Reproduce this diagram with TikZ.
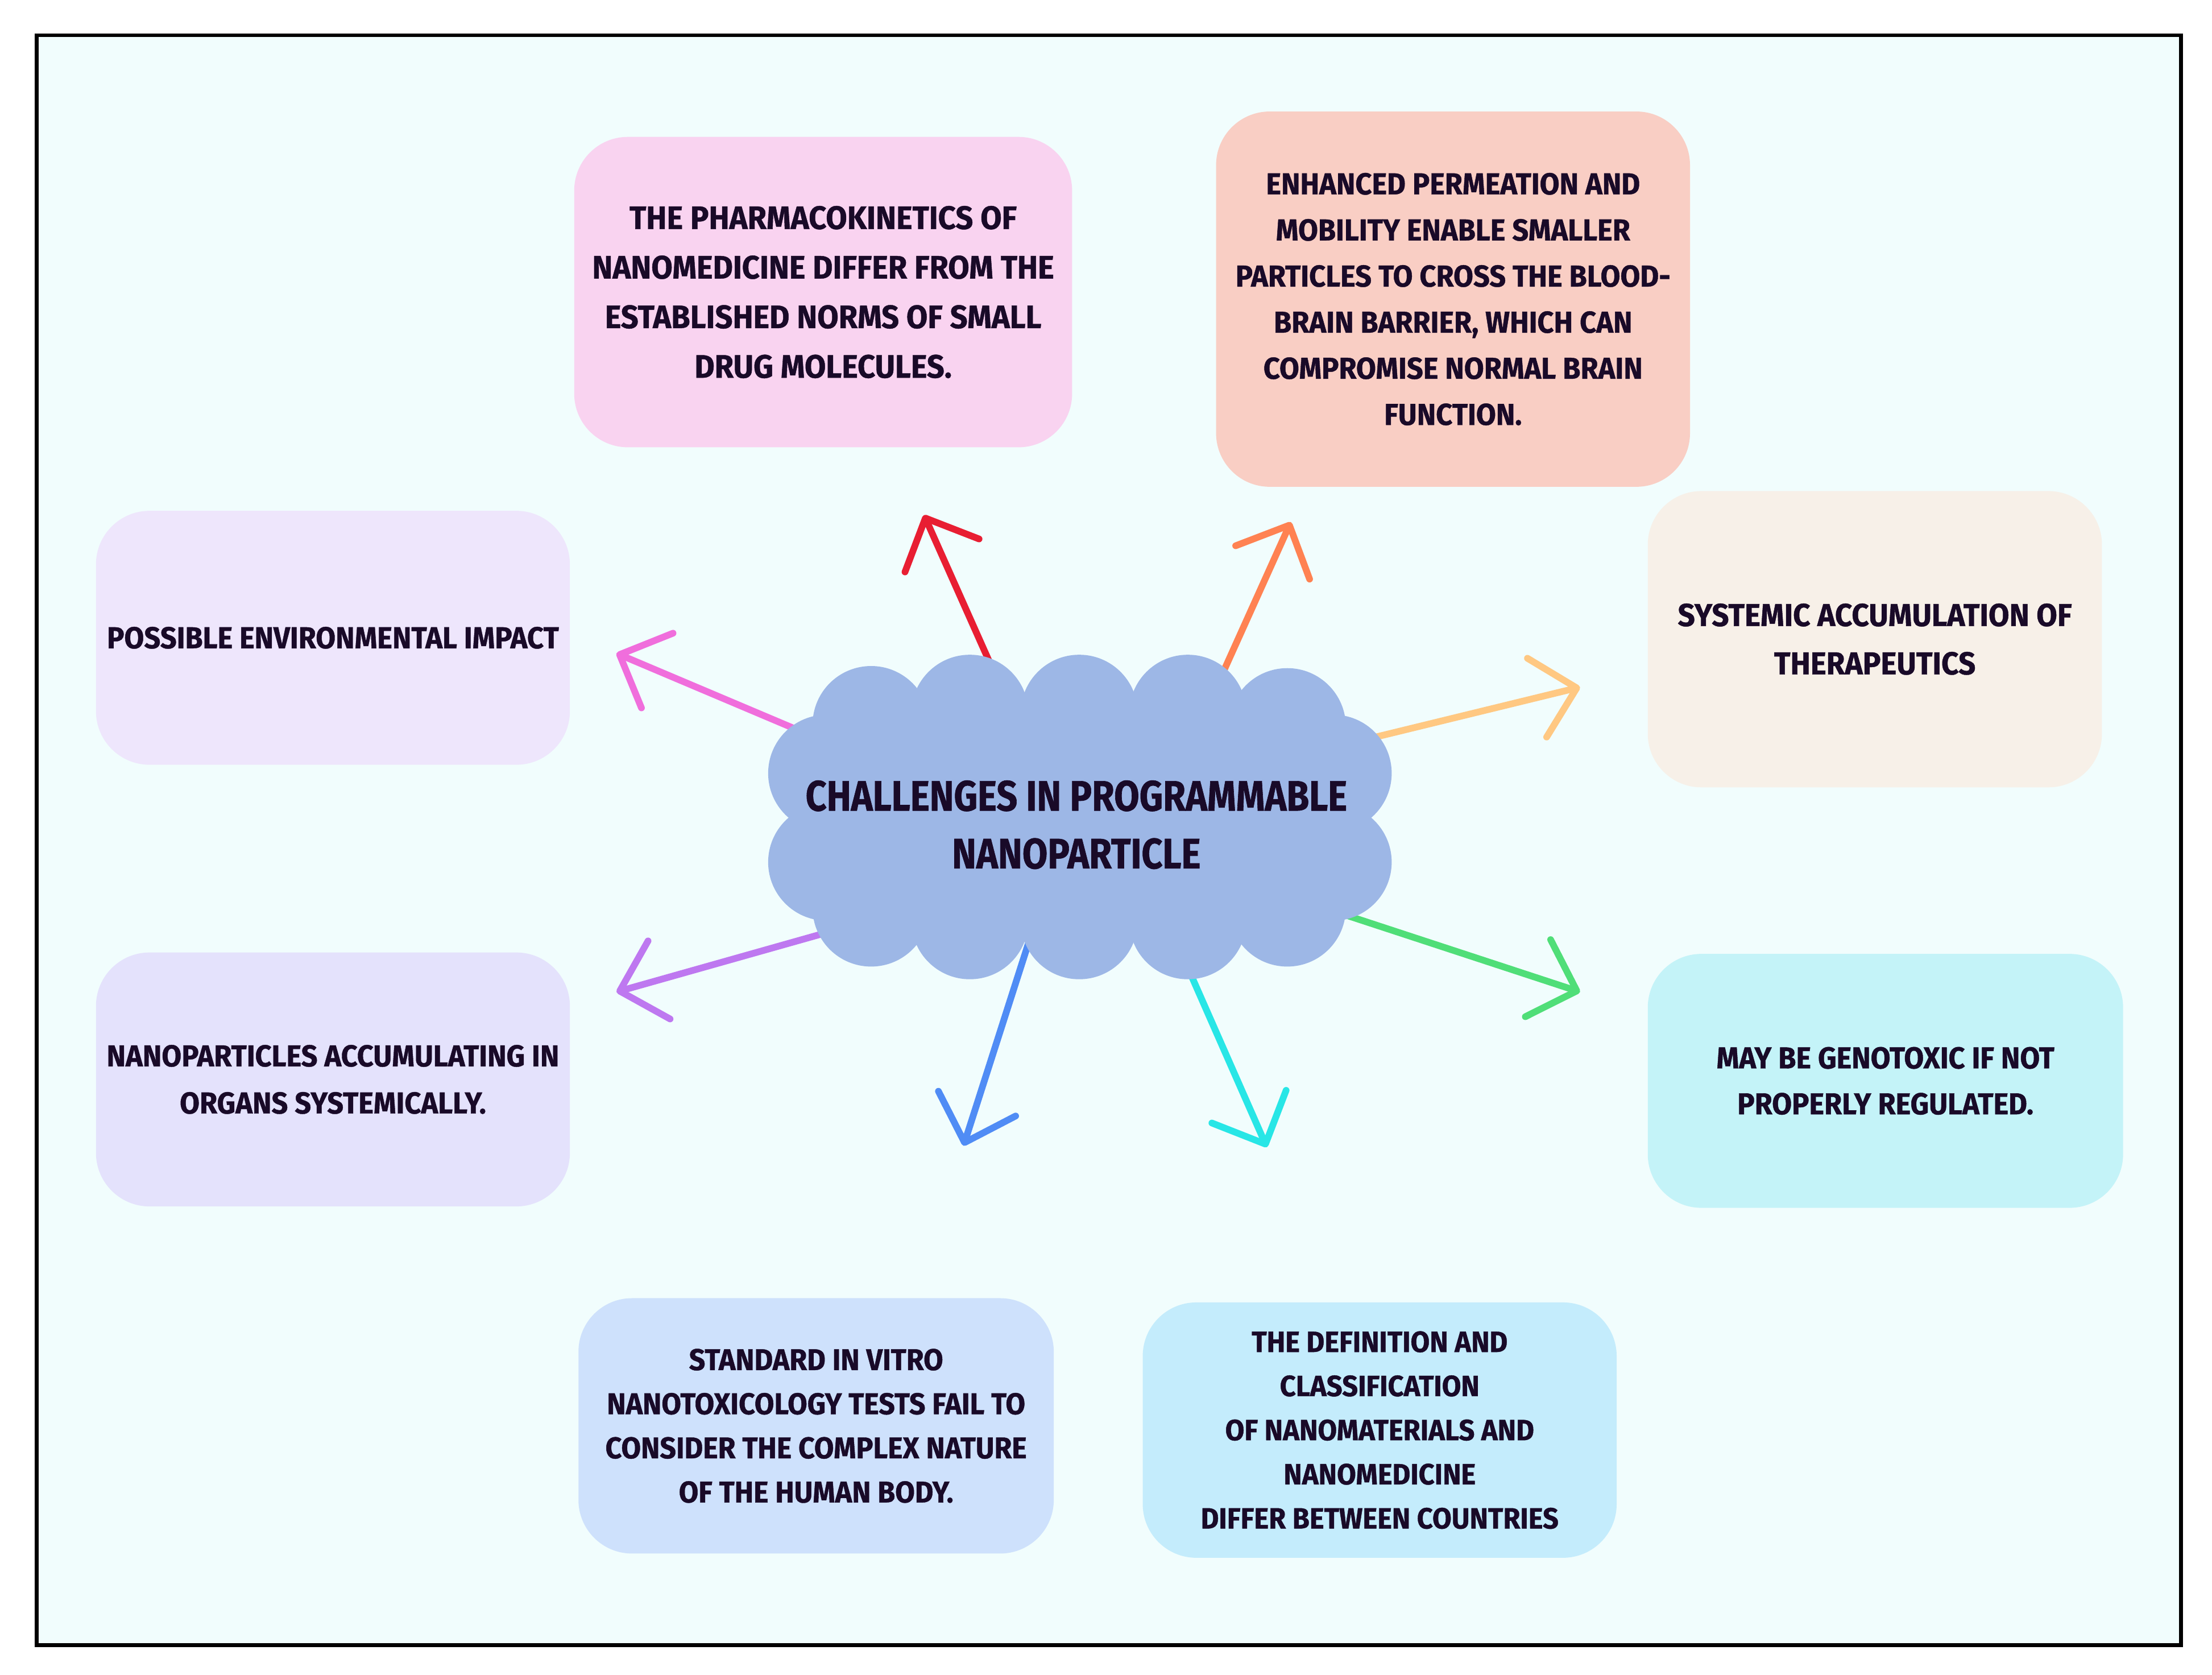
\documentclass[tikz,border=0pt]{standalone}
\usepackage{fontspec}
\setmainfont{Fira Sans}[FakeStretch=0.95, BoldFeatures={FakeBold=0.8}]
\newfontfamily\cloudfont{Fira Sans}[FakeStretch=0.86, BoldFeatures={FakeBold=0.8}]
\usetikzlibrary{arrows.meta}
\definecolor{bg}{RGB}{241, 253, 253}
\definecolor{ink}{RGB}{25, 10, 40}
\definecolor{cloudc}{RGB}{157, 183, 230}
\definecolor{pinkc}{RGB}{249, 211, 240}
\definecolor{salmonc}{RGB}{249, 206, 196}
\definecolor{lilac}{RGB}{238, 230, 252}
\definecolor{beige}{RGB}{247, 240, 232}
\definecolor{lavender}{RGB}{228, 226, 252}
\definecolor{aqua}{RGB}{196, 243, 248}
\definecolor{skyc}{RGB}{206, 225, 252}
\definecolor{icec}{RGB}{196, 236, 252}
\definecolor{redar}{RGB}{232, 30, 50}
\definecolor{orangear}{RGB}{255, 130, 82}
\definecolor{magentaar}{RGB}{240, 110, 220}
\definecolor{peachar}{RGB}{255, 200, 130}
\definecolor{purplear}{RGB}{190, 120, 240}
\definecolor{greenar}{RGB}{80, 222, 120}
\definecolor{bluear}{RGB}{80, 140, 245}
\definecolor{cyanar}{RGB}{40, 230, 230}

\tikzset{
    card/.style={rounded corners=0.76cm, inner sep=0pt, align=center, text=ink},
    ray/.style={line width=2.7pt, line cap=round,
        -{Straight Barb[length=5.8mm, width=11.5mm, round]}}
}

\begin{document}
\begin{tikzpicture}[x=0.02cm, y=-0.02cm]
        \useasboundingbox (0, 0) rectangle (1568, 1186.7);
        \filldraw[draw=black, fill=bg, line width=1.5pt] (26, 25) rectangle (1546, 1166);

        % boxes
        \node[card, fill=pinkc, minimum width=7.06cm, minimum height=4.4cm,
            font=\fontsize{13.1}{20}\selectfont\bfseries] (pk) at (583.5, 207)
            {THE PHARMACOKINETICS OF\\NANOMEDICINE DIFFER FROM THE\\ESTABLISHED NORMS OF SMALL\\DRUG MOLECULES.};
        \node[card, fill=salmonc, minimum width=6.72cm, minimum height=5.32cm,
            font=\fontsize{12.2}{18.6}\selectfont\bfseries] (bbb) at (1030, 212)
            {ENHANCED PERMEATION AND\\MOBILITY ENABLE SMALLER\\PARTICLES TO CROSS THE BLOOD-\\BRAIN BARRIER, WHICH CAN\\COMPROMISE NORMAL BRAIN\\FUNCTION.};
        \node[card, fill=lilac, minimum width=6.72cm, minimum height=3.6cm,
            font=\fontsize{12.2}{19}\selectfont\bfseries] (env) at (236, 452)
            {POSSIBLE ENVIRONMENTAL IMPACT};
        \node[card, fill=beige, minimum width=6.44cm, minimum height=4.2cm,
            font=\fontsize{12.8}{19.5}\selectfont\bfseries] (sys) at (1329, 453)
            {SYSTEMIC ACCUMULATION OF\\THERAPEUTICS};
        \node[card, fill=lavender, minimum width=6.72cm, minimum height=3.6cm,
            font=\fontsize{12.2}{19}\selectfont\bfseries] (org) at (236, 765)
            {NANOPARTICLES ACCUMULATING IN\\ORGANS SYSTEMICALLY.};
        \node[card, fill=aqua, minimum width=6.74cm, minimum height=3.6cm,
            font=\fontsize{12.2}{18.5}\selectfont\bfseries] (geno) at (1336.5, 766)
            {MAY BE GENOTOXIC IF NOT\\PROPERLY REGULATED.};
        \node[card, fill=skyc, minimum width=6.74cm, minimum height=3.62cm,
            font=\fontsize{12.1}{17.8}\selectfont\bfseries] (vitro) at (578.5, 1010.5)
            {STANDARD IN VITRO\\NANOTOXICOLOGY TESTS FAIL TO\\CONSIDER THE COMPLEX NATURE\\OF THE HUMAN BODY.};
        \node[card, fill=icec, minimum width=6.72cm, minimum height=3.62cm,
            font=\fontsize{11.8}{17.8}\selectfont\bfseries] (def) at (978, 1013.5)
            {THE DEFINITION AND\\CLASSIFICATION\\OF NANOMATERIALS AND\\NANOMEDICINE\\DIFFER BETWEEN COUNTRIES};

        % arrows, drawn before the cloud so they come out of it
        \coordinate (s1) at (708, 484);  \coordinate (t1) at (655, 365);
        \coordinate (s2) at (860, 492);  \coordinate (t2) at (915, 370);
        \coordinate (s3) at (586, 526);  \coordinate (t3) at (437, 463);
        \coordinate (s4) at (956, 527);  \coordinate (t4) at (1120, 487);
        \coordinate (s5) at (607, 655);  \coordinate (t5) at (437, 703);
        \coordinate (s6) at (928, 640);  \coordinate (t6) at (1120, 703);
        \coordinate (s7) at (733, 656);  \coordinate (t7) at (683, 812);
        \coordinate (s8) at (839, 679);  \coordinate (t8) at (898, 813);
        \draw[ray, redar] (s1) -- (t1);
        \draw[ray, orangear] (s2) -- (t2);
        \draw[ray, magentaar] (s3) -- (t3);
        \draw[ray, peachar] (s4) -- (t4);
        \draw[ray, purplear] (s5) -- (t5);
        \draw[ray, greenar] (s6) -- (t6);
        \draw[ray, bluear] (s7) -- (t7);
        \draw[ray, cyanar] (s8) -- (t8);

        % cloud
        \fill[cloudc] (586, 505) rectangle (945, 652);
        \foreach \cx/\cy in {617.5/513.5, 687.5/505.5, 765/505.5, 842/505.5, 912.5/515,
                617.5/643.5, 687.5/652.5, 765/652.5, 842/652.5, 912.5/643.5,
                586/548, 586/611, 945/548, 945/611}
            \fill[cloudc] (\cx, \cy) circle (0.83cm);
        \node[text=ink, align=center, font=\cloudfont\fontsize{17.2}{23.3}\selectfont\bfseries] (cloud) at (763, 584.5)
            {CHALLENGES IN PROGRAMMABLE\\NANOPARTICLE};
    \end{tikzpicture}
\end{document}
